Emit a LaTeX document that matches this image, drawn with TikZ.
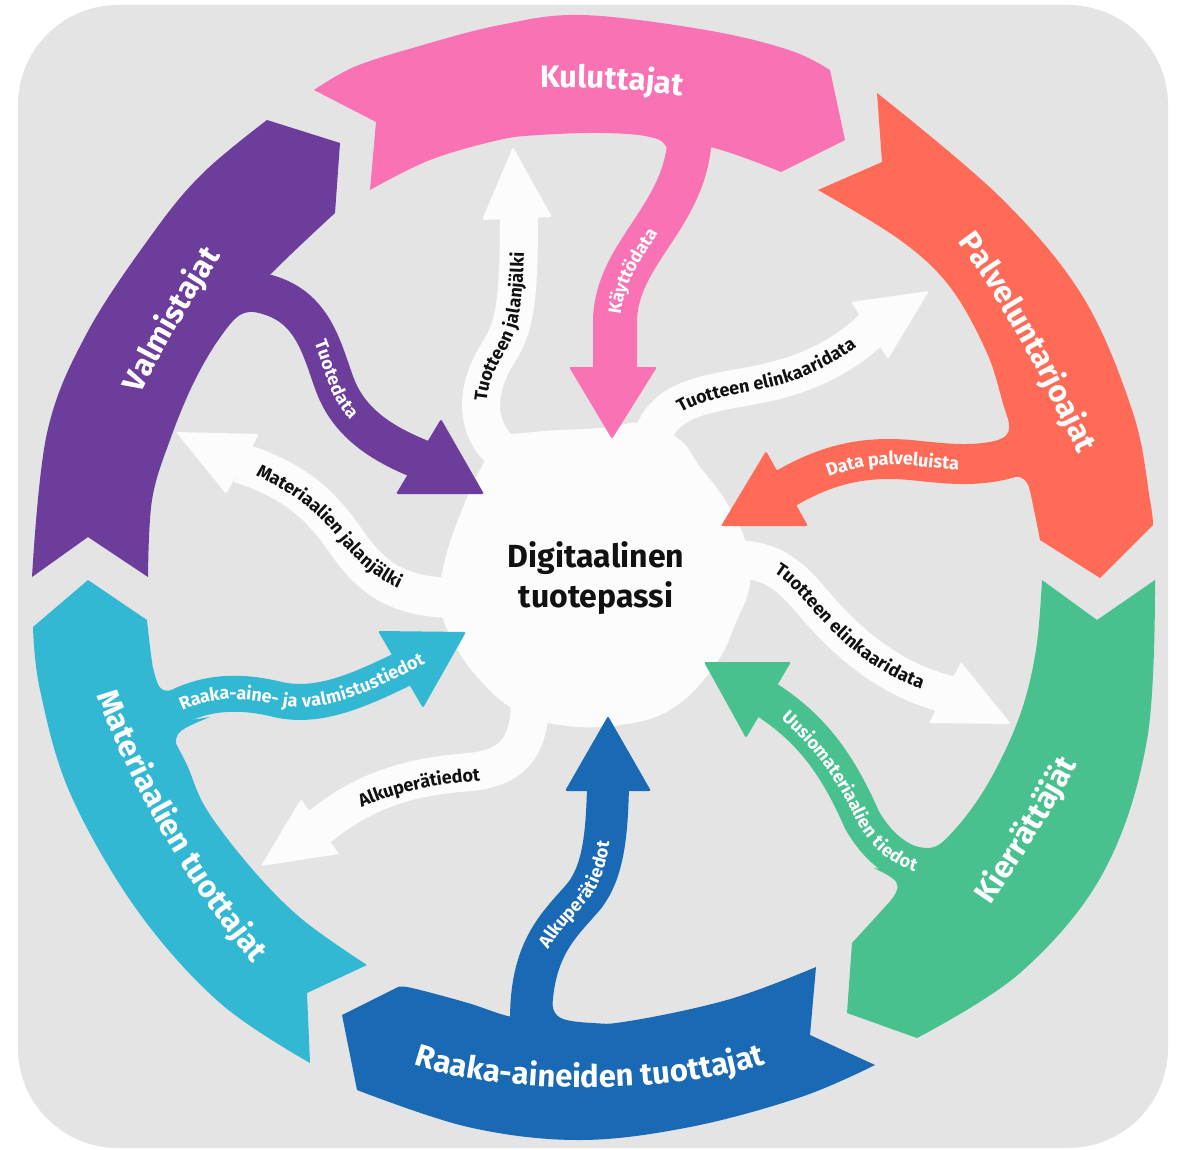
\documentclass[tikz,border=0pt]{standalone}
\usepackage{fontspec}
\setmainfont{Fira Sans}
\usetikzlibrary{decorations.text}
\definecolor{bg}{RGB}{228,228,228}
\definecolor{cpink}{RGB}{249,115,180}
\definecolor{corange}{RGB}{255,107,87}
\definecolor{cgreen}{RGB}{73,193,143}
\definecolor{cblue}{RGB}{26,105,181}
\definecolor{ccyan}{RGB}{51,184,211}
\definecolor{cpurple}{RGB}{108,61,155}
\definecolor{cwhite}{RGB}{252,252,252}
\definecolor{ctext}{RGB}{17,17,17}
\begin{document}
\begin{tikzpicture}[x=1pt,y=-1pt,
  shaftline/.style={draw=#1, line cap=butt},
  arrhead/.style={fill=#1, rounded corners=2pt},
  ringtext/.style={decorate, decoration={text along path, text align=center, text color=white,
     text={|\bfseries\fontsize{31}{31}\selectfont|#1}}},
  wlabel/.style={decorate, decoration={text along path, text align=center, raise=-5.5pt, text color=white,
     text={|\bfseries\fontsize{18}{18}\selectfont|#1}}},
  blabel/.style={decorate, decoration={text along path, text align=center, raise=-5.5pt, text color=ctext,
     text={|\bfseries\fontsize{18}{18}\selectfont|#1}}}
]
\useasboundingbox (0,0) rectangle (1183,1150);
% background
\fill[white] (0,0) rectangle (1183,1150);
\fill[bg, rounded corners=100pt] (18,5) rectangle (1168,1148);

% central blob
\fill[cwhite] plot[smooth cycle, tension=0.7] coordinates {(533,432) (600,428) (645,423) (680,440) (700,467) (725,500) (745,540) (750,583) (737,620) (715,665) (673,708) (620,725) (560,725) (515,710) (480,680) (455,645) (440,605) (445,560) (462,510) (480,470) (500,440)};

% white arrows
\draw[shaftline=cwhite, line width=38pt] (500,450) .. controls (470,420) and (480,380) .. (500,350) .. controls (515,325) and (519,300) .. (519,215);
\fill[arrhead=cwhite] (482,220) -- (552,217) -- (513,147) -- cycle;

\draw[shaftline=cwhite, line width=40pt] (470,598) .. controls (400,600) and (375,580) .. (350,547) .. controls (325,510) and (300,482) .. (240,463);
\fill[arrhead=cwhite] (259,434) -- (176,432) -- (226,494) -- cycle;

\draw[shaftline=cwhite, line width=38pt] (530,700) .. controls (530,750) and (510,768) .. (470,772) .. controls (420,776) and (370,785) .. (318,828);
\fill[arrhead=cwhite] (301,799) -- (339,854) -- (261,866) -- cycle;

\draw[shaftline=cwhite, line width=38pt] (720,560) .. controls (770,555) and (790,575) .. (815,605) .. controls (850,645) and (890,680) .. (950,695);
\fill[arrhead=cwhite] (961,662) -- (1011,724) -- (929,723) -- cycle;

\draw[shaftline=cwhite, line width=38pt] (650,445) .. controls (660,400) and (700,395) .. (750,386) .. controls (800,377) and (840,360) .. (874,327);
\fill[arrhead=cwhite] (851,302) -- (929,291) -- (888,359) -- cycle;

% ring bands
\fill[cpink] plot[smooth, tension=0.6] coordinates {(314,90) (354,67) (416,47) (500,25) (582,15) (706,30) (789,50) (830,70)} -- (845,140) -- (781,172) -- plot[smooth, tension=0.6] coordinates {(781,172) (745,158) (710,147) (660,137) (602,133) (540,135) (499,140) (430,160) (370,190)} -- (376,122) -- cycle;

\fill[corange] plot[smooth, tension=0.6] coordinates {(877,93) (1000,197) (1083,297) (1133,413) (1150,500) (1153,525)} -- (1100,578) -- (1040,540) -- plot[smooth, tension=0.6] coordinates {(1040,540) (1025,470) (1005,410) (987,353) (950,287) (900,240) (818,190)} -- (882,162) -- cycle;

\fill[cgreen] (1155,580) -- (1097,620) -- (1042,580) -- plot[smooth, tension=0.6] coordinates {(1042,580) (1036,650) (1020,715) (990,780) (955,830) (905,885) (852,943)} -- (847,1013) -- (917,1038) -- plot[smooth, tension=0.6] coordinates {(917,1038) (1020,973) (1103,873) (1147,740) (1155,580)} -- cycle;

\fill[cblue] (875,1065) -- (810,1035) -- (816,967) -- plot[smooth, tension=0.6] coordinates {(816,967) (727,1000) (616,1023) (560,1022) (512,1017) (468,1003) (412,988) (398,987)} -- (342,1015) -- (357,1090) -- plot[smooth, tension=0.6] coordinates {(357,1090) (468,1127) (579,1140) (690,1127) (801,1097) (875,1065)} -- cycle;

\fill[ccyan] (367,965) -- (307,993) -- (310,1063) -- plot[smooth, tension=0.6] coordinates {(310,1063) (220,1003) (137,910) (70,793) (40,690) (33,627)} -- (88,580) -- (147,620) -- plot[smooth, tension=0.6] coordinates {(147,620) (155,680) (170,730) (187,765) (207,810) (253,870) (303,920) (367,965)} -- cycle;

\fill[cpurple] (32,577) -- (88,537) -- (148,577) -- plot[smooth, tension=0.6] coordinates {(148,577) (152,500) (170,440) (195,380) (225,330) (265,280) (335,213)} -- (340,143) -- (267,120) -- plot[smooth, tension=0.6] coordinates {(267,120) (203,173) (153,233) (87,333) (47,433) (32,577)} -- cycle;

% coloured branch arrows (shaft, head, root fillets)
\draw[shaftline=cpink, line width=44pt] (690,110) -- (690,130) .. controls (690,215) and (617,250) .. (615,320) -- (615,372);
\fill[arrhead=cpink] (569,367) -- (657,367) -- (612,439) -- cycle;
\fill[cpink] (625,133) .. controls (668,139) .. (669,170) -- (686,129) -- cycle;

\draw[shaftline=cpurple, line width=40pt] (210,292) .. controls (310,280) and (318,340) .. (335,385) .. controls (350,425) and (385,445) .. (422,460);
\fill[arrhead=cpurple] (441,419) -- (484,494) -- (396,494) -- cycle;
\fill[cpurple] (213,347) .. controls (239,311) .. (265,312) -- (238,295) -- cycle;

\draw[shaftline=ccyan, line width=36pt] (150,725) .. controls (195,688) and (240,690) .. (280,700) .. controls (320,708) and (360,690) .. (405,668);
\fill[arrhead=ccyan] (378,631) -- (466,632) -- (423,708) -- cycle;
\fill[ccyan] (153,668) .. controls (160,694) .. (188,686) -- (151,708) -- cycle;
\fill[ccyan] (183,768) .. controls (171,733) .. (210,717) -- (150,726) -- cycle;

\draw[shaftline=cblue, line width=42pt] (532,1040) .. controls (525,950) and (560,925) .. (585,895) .. controls (602,872) and (607,840) .. (608,785);
\fill[arrhead=cblue] (565,791) -- (651,791) -- (608,716) -- cycle;
\fill[cblue] (610,1024) .. controls (553,1021) .. (551,990) -- (530,1033) -- cycle;

\draw[shaftline=cgreen, line width=38pt] (980,867) .. controls (920,880) and (885,860) .. (862,820) .. controls (840,770) and (815,730) .. (764,698);
\fill[arrhead=cgreen] (791,662) -- (746,738) -- (704,662) -- cycle;
\fill[cgreen] (965,818) .. controls (936,851) .. (910,845) -- (936,867) -- cycle;
\fill[cgreen] (871,924) .. controls (906,884) .. (874,868) -- (933,876) -- cycle;

\draw[shaftline=corange, line width=40pt] (1050,440) .. controls (1000,470) and (960,465) .. (920,461) .. controls (870,455) and (830,462) .. (783,490);
\fill[arrhead=corange] (766,451) -- (808,526) -- (721,526) -- cycle;
\fill[corange] (1003,397) .. controls (1013,436) .. (985,444) -- (1029,449) -- cycle;
\fill[corange] (1037,512) .. controls (1026,474) .. (1000,479) -- (1033,456) -- cycle;

% ring labels
\path[ringtext={Kuluttajat}] (465,92) .. controls (560,82) and (660,88) .. (757,108);
\path[ringtext={Palveluntarjoajat}] (940,220) .. controls (995,285) and (1045,380) .. (1090,480);
\path[ringtext={Kierrättäjät}] (950,960) .. controls (1005,890) and (1060,800) .. (1110,705);
\path[ringtext={Raaka-aineiden tuottajat}] (380,1050) .. controls (470,1100) and (700,1100) .. (800,1050);
\path[ringtext={Materiaalien tuottajat}] (80,650) .. controls (120,770) and (185,890) .. (285,1000);
\path[ringtext={Valmistajat}] (120,440) .. controls (150,370) and (195,290) .. (250,215);

% arrow labels
\path[wlabel={Käyttödata}] (615,422) -- (615,320) .. controls (617,250) and (690,215) .. (690,130);
\path[blabel={Tuotteen jalanjälki}] (500,450) .. controls (470,420) and (480,380) .. (500,350) .. controls (515,325) and (519,300) .. (519,198);
\path[wlabel={Tuotedata}] (240,285) .. controls (310,280) and (318,340) .. (335,385) .. controls (350,425) and (385,445) .. (445,470);
\path[blabel={Materiaalien jalanjälki}] (182,442) .. controls (270,470) and (310,495) .. (340,532) .. controls (370,570) and (400,595) .. (480,600);
\path[wlabel={Raaka-aine- ja valmistustiedot}] (150,725) .. controls (195,688) and (240,690) .. (280,700) .. controls (320,708) and (360,690) .. (403,669) -- (455,642);
\path[blabel={Alkuperätiedot}] (300,840) .. controls (370,785) and (430,775) .. (550,772);
\path[wlabel={Alkuperätiedot}] (530,1015) .. controls (525,950) and (560,925) .. (585,895) .. controls (602,872) and (607,840) .. (608,770);
\path[wlabel={Uusiomateriaalien tiedot}] (728,675) .. controls (800,715) and (840,770) .. (862,820) .. controls (885,860) and (920,880) .. (985,866);
\path[blabel={Tuotteen elinkaaridata}] (730,556) .. controls (775,558) and (790,575) .. (815,605) .. controls (850,645) and (890,680) .. (970,699);
\path[blabel={Tuotteen elinkaaridata}] (640,460) .. controls (655,405) and (700,395) .. (750,386) .. controls (800,377) and (840,360) .. (905,300);
\path[wlabel={Data palveluista}] (752,510) .. controls (830,462) and (870,455) .. (920,461) .. controls (960,465) and (990,470) .. (1040,445);

% centre
\node[font=\bfseries\fontsize{32}{40}\selectfont, align=center, text=ctext] (dpp) at (596,578) {Digitaalinen\\tuotepassi};
\end{tikzpicture}
\end{document}
